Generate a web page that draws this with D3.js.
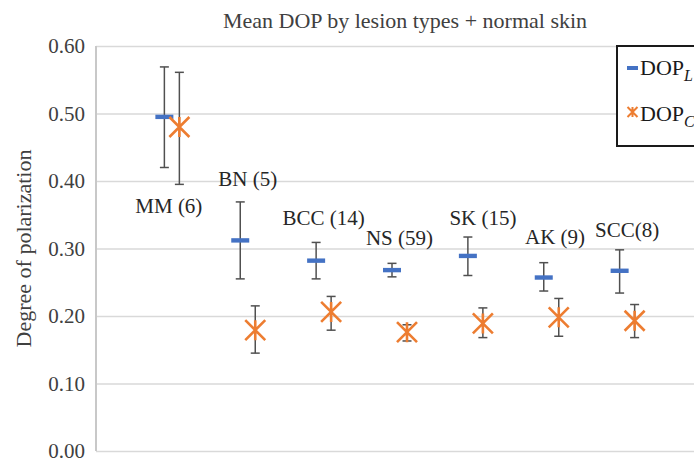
<!DOCTYPE html>
<html>
<head>
<meta charset="utf-8">
<script src="https://cdn.jsdelivr.net/npm/d3@7"></script>
<style>
body { margin: 0; background: #fff; }
</style>
</head>
<body>
<div id="chart"></div>
<script>
const width = 694,
height = 461,
margin = {top: 46, right: -9, bottom: 10, left: 96};

const serif = "'Liberation Serif', 'Times New Roman', Times, 'DejaVu Serif', serif";

// lesion groups, in plotting order
const categories = ["MM", "BN", "BCC", "NS", "SK", "AK", "SCC"];
const labels = ["MM (6)", "BN (5)", "BCC (14)", "NS (59)", "SK (15)", "AK (9)", "SCC(8)"];
// where the group labels sit (x in category slots, y in DOP units)
const labelX = [0.96, 2.0, 3.0, 4.0, 5.1, 6.05, 7.0];
const labelY = [0.353, 0.393, 0.335, 0.305, 0.335, 0.307, 0.317];

// DOP_L mean and error bar ends
const dopL = [0.495, 0.312, 0.282, 0.268, 0.289, 0.257, 0.267];
const dopLLow = [0.420, 0.255, 0.255, 0.258, 0.260, 0.237, 0.234];
const dopLHigh = [0.569, 0.369, 0.309, 0.278, 0.317, 0.279, 0.298];

// DOP_C mean and error bar ends
const dopC = [0.480, 0.179, 0.206, 0.176, 0.189, 0.198, 0.193];
const dopCLow = [0.395, 0.145, 0.179, 0.163, 0.168, 0.170, 0.168];
const dopCHigh = [0.561, 0.215, 0.229, 0.187, 0.212, 0.226, 0.217];

const yTicks = [0, 0.1, 0.2, 0.3, 0.4, 0.5, 0.6];

const svg = d3.select("#chart")
.append("svg")
.attr("width", width)
.attr("height", height);

svg.append("rect").attr("width", width).attr("height", height).attr("fill", "#fff");

// 8 slots, groups sit at 1..7
let x = d3.scaleLinear([0, 8], [margin.left, width - margin.right]);
let y = d3.scaleLinear([0, 0.6], [height - margin.bottom, margin.top]);

const off = 7.5;

// gridlines
svg.append("g")
.attr("transform", `translate(${margin.left},0)`)
.call(d3.axisLeft(y).tickValues(yTicks).tickFormat(d3.format(".2f"))
  .tickSize(-(width - margin.left - margin.right)).tickPadding(11))
.call(g => g.select(".domain").remove())
.call(g => g.selectAll(".tick line").attr("stroke", "#d9d9d9").attr("stroke-width", 1.5))
.call(g => g.selectAll(".tick text").attr("font-size", 21).attr("fill", "#404040")
  .style("font-family", serif));

// left axis line
svg.append("line")
.attr("x1", margin.left).attr("x2", margin.left)
.attr("y1", y(0.6)).attr("y2", y(0))
.attr("stroke", "#c8c8c8").attr("stroke-width", 2);

const rows = categories.map((c, i) => ({
  c, i,
  l: dopL[i], lLo: dopLLow[i], lHi: dopLHigh[i],
  k: dopC[i], kLo: dopCLow[i], kHi: dopCHigh[i]
}));

function errBars(g, xs, lo, hi) {
  g.selectAll(null).data(rows).join("line")
  .attr("x1", xs).attr("x2", xs)
  .attr("y1", d => y(lo(d))).attr("y2", d => y(hi(d)))
  .attr("stroke", "#505050").attr("stroke-width", 1.5);
  [lo, hi].forEach(f => {
    g.selectAll(null).data(rows).join("line")
    .attr("x1", d => xs(d) - 4.5).attr("x2", d => xs(d) + 4.5)
    .attr("y1", d => y(f(d))).attr("y2", d => y(f(d)))
    .attr("stroke", "#505050").attr("stroke-width", 1.5);
  });
}

const xL = d => x(d.i + 1) - off;
const xC = d => x(d.i + 1) + off;

const bars = svg.append("g");
errBars(bars, xL, d => d.lLo, d => d.lHi);
errBars(bars, xC, d => d.kLo, d => d.kHi);

// DOP_L dash markers
svg.append("g")
.selectAll("rect")
.data(rows)
.join("rect")
.attr("x", d => xL(d) - 9)
.attr("y", d => y(d.l) - 2.2)
.attr("width", 18)
.attr("height", 4.4)
.attr("fill", "#4472c4");

// DOP_C star markers
const star = s => `M${-s},${-s}L${s},${s}M${-s},${s}L${s},${-s}M0,${-s}L0,${s}`;
svg.append("g")
.selectAll("path")
.data(rows)
.join("path")
.attr("transform", d => `translate(${xC(d)},${y(d.k)})`)
.attr("d", star(10))
.attr("stroke", "#ed7d31")
.attr("stroke-width", 2.6)
.attr("fill", "none");

// group labels
svg.append("g")
.selectAll("text")
.data(labels)
.join("text")
.attr("x", (d, i) => x(labelX[i]))
.attr("y", (d, i) => y(labelY[i]))
.attr("text-anchor", "middle")
.attr("font-size", 21)
.attr("fill", "#262626")
.style("font-family", serif)
.text(d => d);

// title
svg.append("text")
.attr("x", 405)
.attr("y", 28)
.attr("text-anchor", "middle")
.attr("font-size", 22)
.attr("fill", "#404040")
.style("font-family", serif)
.text("Mean DOP by lesion types + normal skin");

// y label
svg.append("text")
.attr("transform", `translate(31,${(y(0) + y(0.6)) / 2}) rotate(-90)`)
.attr("text-anchor", "middle")
.attr("font-size", 22)
.attr("fill", "#404040")
.style("font-family", serif)
.text("Degree of polarization");

// legend
const lg = svg.append("g").attr("transform", "translate(617,46)");
lg.append("rect")
.attr("width", 100).attr("height", 100)
.attr("fill", "#fff").attr("stroke", "#1a1a1a").attr("stroke-width", 2);

lg.append("rect").attr("x", 10).attr("y", 20).attr("width", 11).attr("height", 4).attr("fill", "#4472c4");
lg.append("path").attr("transform", "translate(15.5,66)").attr("d", star(5))
.attr("stroke", "#ed7d31").attr("stroke-width", 2).attr("fill", "none");

const entries = [["DOP", "L", 29], ["DOP", "C", 75]];
entries.forEach(([base, sub, yy]) => {
  const t = lg.append("text").attr("x", 23).attr("y", yy).attr("font-size", 22)
  .attr("fill", "#1a1a1a").style("font-family", serif);
  t.append("tspan").text(base);
  t.append("tspan").attr("dy", 6).attr("font-size", 16).attr("font-style", "italic").text(sub);
});
</script>
</body>
</html>
